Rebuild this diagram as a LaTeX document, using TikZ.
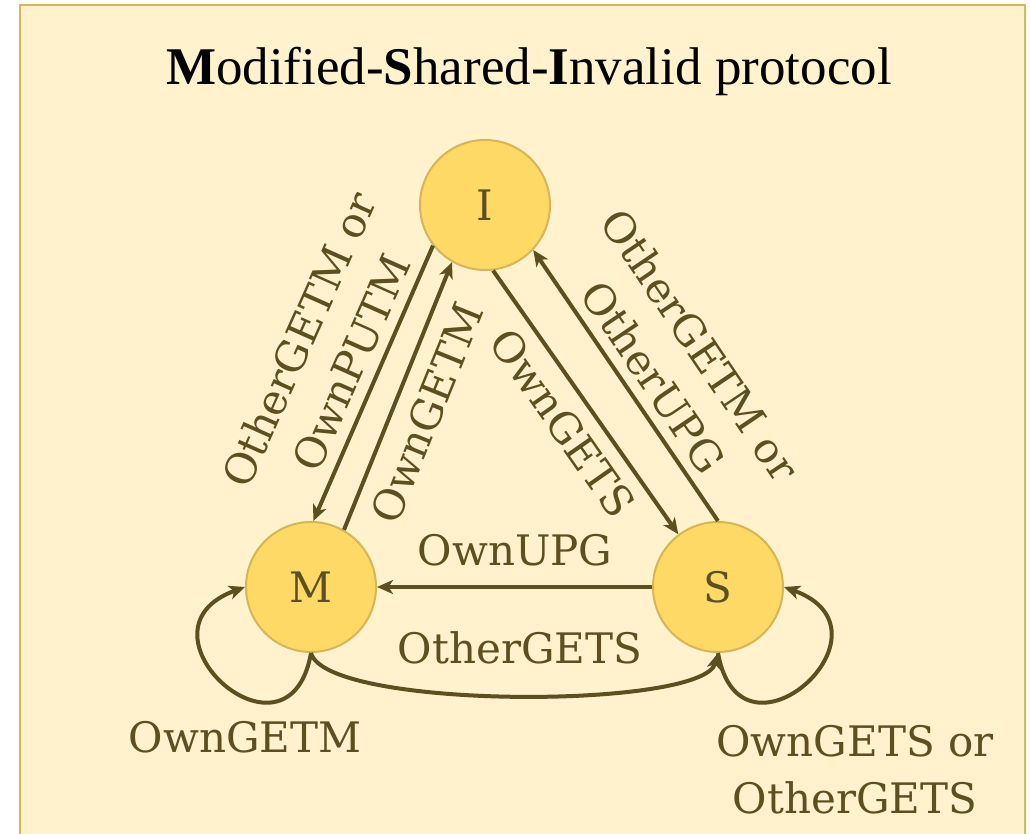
\documentclass[tikz,border=0pt]{standalone}
\usepackage{fontspec}
\setmainfont{DejaVu Serif}
\newfontfamily\titlefont{Liberation Serif}
\usetikzlibrary{arrows.meta}
\definecolor{mesibg}{HTML}{FFF2CC}
\definecolor{mesiframe}{HTML}{D6B656}
\definecolor{mesistate}{HTML}{FFD966}
\definecolor{mesiink}{HTML}{5D4F1F}

\begin{document}
\begin{tikzpicture}[
  x=0.5pt,
  y=0.5pt,
  every node/.style={font=\fontsize{21}{28.5}\selectfont, mesiink},
  mstate/.style={circle, fill=mesistate, draw=mesiframe, line width=1pt,
                 minimum size=65pt, inner sep=0pt},
  trans/.style={mesiink, line width=2pt,
                -{Stealth[length=8pt, width=7pt, inset=2.2pt]}},
  event/.style={align=center, inner sep=0pt}
]
  % ---- page and panel ---------------------------------------------------
  \useasboundingbox (0,0) rectangle (1030,834);
  \draw[mesiframe, fill=mesibg, line width=1pt] (20,-10) rectangle (1025,829);

  \node[anchor=base, text=black, font=\titlefont\fontsize{26.5}{30}\selectfont]
    (title) at (529,749) {\textbf{M}odified-\textbf{S}hared-\textbf{I}nvalid protocol};

  % ---- the three states -------------------------------------------------
  \node[mstate] (I) at (485,629) {I};
  \node[mstate] (M) at (311,247) {M};
  \node[mstate] (S) at (718,247) {S};

  % ---- transitions out of I ---------------------------------------------
  \draw[trans] (I.218) -- (M.88);
  \draw[trans] (I.277) -- (S.127);

  % ---- transitions into I -----------------------------------------------
  \draw[trans] (M.60) -- (I.240);
  \draw[trans] (S.90) -- (I.317);

  % ---- between M and S --------------------------------------------------
  \draw[trans] (S.west) -- (M.east);
  \draw[trans] (M.south) to[out=-75, in=-105, looseness=0.37] (S.south);

  % ---- self loops -------------------------------------------------------
  \draw[trans] (M.south) to[out=-100, in=200, looseness=3.5] (M.west);
  \draw[trans] (S.south) to[out=-80, in=-20, looseness=3.5] (S.east);

  % ---- events, each set beside its transition ---------------------------
  \node[event, rotate=66] (evIM) at (325,483) {OtherGETM or\\OwnPUTM};
  \node[event, rotate=68] (evMI) at (427,421) {OwnGETM};
  \node[event, rotate=-55] (evIS) at (563,411) {OwnGETS};
  \node[event, rotate=-56] (evSI) at (677,473) {OtherGETM or\\OtherUPG};
  \node[event] (evSM) at (515,284) {OwnUPG};
  \node[event] (evMS) at (520,186) {OtherGETS};
  \node[event] (evMM) at (245,97) {OwnGETM};
  \node[event] (evSS) at (855,64) {OwnGETS or\\OtherGETS};

\end{tikzpicture}
\end{document}
